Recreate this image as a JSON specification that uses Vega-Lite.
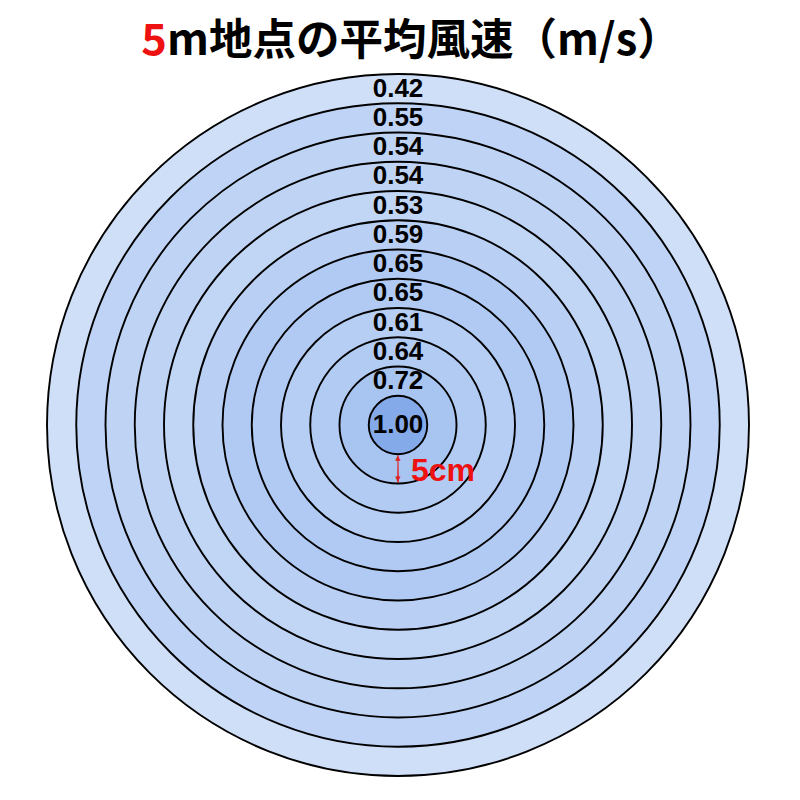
{
  "$schema": "https://vega.github.io/schema/vega-lite/v6.json",
  "autosize": "none",
  "padding": {"top": 50, "left": 0, "right": 4, "bottom": 0},
  "width": 796,
  "height": 750,
  "background": "white",
  "config": {"view": {"stroke": null, "fill": null}},
  "data": {
    "values": [
      {"ring": 12, "speed": 0.42},
      {"ring": 11, "speed": 0.55},
      {"ring": 10, "speed": 0.54},
      {"ring": 9, "speed": 0.54},
      {"ring": 8, "speed": 0.53},
      {"ring": 7, "speed": 0.59},
      {"ring": 6, "speed": 0.65},
      {"ring": 5, "speed": 0.65},
      {"ring": 4, "speed": 0.61},
      {"ring": 3, "speed": 0.64},
      {"ring": 2, "speed": 0.72},
      {"ring": 1, "speed": 1.0}
    ]
  },
  "layer": [
    {
      "mark": {"type": "arc", "theta": 0, "theta2": 6.2832, "stroke": "black", "strokeWidth": 1.9},
      "encoding": {
        "radius": {"field": "ring", "type": "quantitative", "stack": null, "scale": {"type": "linear", "domain": [0, 12], "range": [0, 351], "zero": true}},
        "color": {"field": "speed", "type": "quantitative", "scale": {"domain": [0.42, 1.0], "range": ["#cfdff8", "#84aaea"]}, "legend": null},
        "order": {"field": "ring", "type": "quantitative", "sort": "descending"}
      }
    },
    {
      "transform": [{"filter": "datum.ring > 1"}],
      "mark": {"type": "text", "radiusOffset": -14.6, "font": "Liberation Sans", "fontWeight": "bold", "fontSize": 26, "baseline": "middle", "align": "center", "color": "black"},
      "encoding": {
        "theta": {"value": 0},
        "radius": {"field": "ring", "type": "quantitative", "stack": null},
        "text": {"field": "speed", "type": "quantitative", "format": ".2f"}
      }
    },
    {
      "transform": [{"filter": "datum.ring == 1"}],
      "mark": {"type": "text", "font": "Liberation Sans", "fontWeight": "bold", "fontSize": 26, "baseline": "middle", "align": "center", "color": "black"},
      "encoding": {
        "theta": {"value": 0},
        "radius": {"datum": 0, "type": "quantitative"},
        "text": {"field": "speed", "type": "quantitative", "format": ".2f"}
      }
    },
    {
      "data": {"values": [{"label": "5cm"}]},
      "mark": {"type": "arc", "theta": 3.1266, "theta2": 3.1566, "color": "#e02020"},
      "encoding": {
        "radius": {"datum": 1.97, "type": "quantitative", "stack": null},
        "radius2": {"datum": 1.03}
      }
    },
    {
      "data": {"values": [{"glyph": "▲", "r": 1.14}, {"glyph": "▼", "r": 1.86}]},
      "mark": {"type": "text", "font": "DejaVu Sans", "fontSize": 7, "baseline": "middle", "align": "center", "color": "#e02020"},
      "encoding": {
        "theta": {"value": 3.1416},
        "radius": {"field": "r", "type": "quantitative", "stack": null},
        "text": {"field": "glyph"}
      }
    },
    {
      "data": {"values": [{"label": "5cm"}]},
      "mark": {"type": "text", "font": "Liberation Sans", "fontWeight": "bold", "fontSize": 32, "baseline": "middle", "align": "left", "dx": 13, "color": "#ee1111"},
      "encoding": {
        "theta": {"value": 3.1416},
        "radius": {"datum": 1.57, "type": "quantitative"},
        "text": {"field": "label"}
      }
    },
    {
      "data": {"values": [{"part": "5"}]},
      "mark": {"type": "text", "font": "Noto Sans CJK JP", "fontWeight": "bold", "fontSize": 43.5, "baseline": "middle", "align": "right", "dx": -231, "color": "#ee1111"},
      "encoding": {
        "theta": {"value": 0},
        "radius": {"datum": 13.1, "type": "quantitative"},
        "text": {"field": "part"}
      }
    },
    {
      "data": {"values": [{"part": "m地点の平均風速（m/s）"}]},
      "mark": {"type": "text", "font": "Noto Sans CJK JP", "fontWeight": "bold", "fontSize": 43.5, "baseline": "middle", "align": "left", "dx": -231, "color": "black"},
      "encoding": {
        "theta": {"value": 0},
        "radius": {"datum": 13.1, "type": "quantitative"},
        "text": {"field": "part"}
      }
    }
  ]
}
